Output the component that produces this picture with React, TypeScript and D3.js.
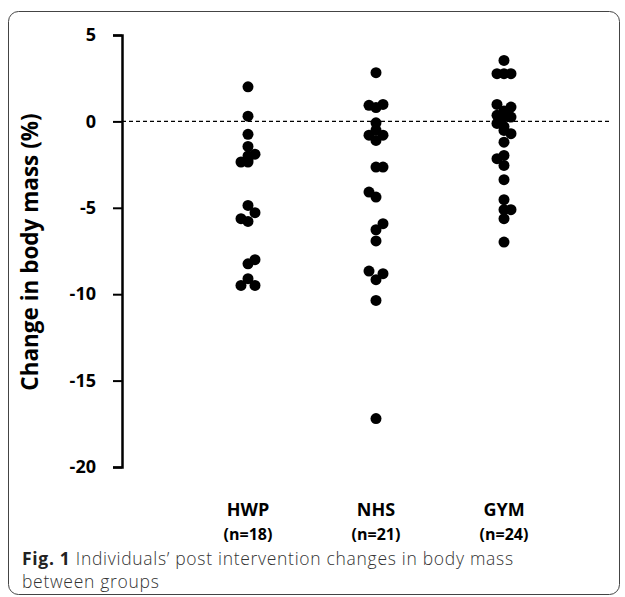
import * as d3 from 'd3';
import React, { useEffect, useRef } from 'react';

const groups = ['HWP', 'NHS', 'GYM'];
const groupCounts = ['(n=18)', '(n=21)', '(n=24)'];
const yTicks = [5, 0, -5, -10, -15, -20];

// % change per individual, with the beeswarm slot (-1 left, 0 centre, 1 right)
const hwpValues = [2.0, 0.3, -0.75, -1.45, -1.9, -2.0, -2.2, -2.35, -2.35, -4.86, -5.28, -5.63, -5.79, -8.0, -8.24, -9.1, -9.49, -9.49];
const hwpSlots = [0, 0, 0, 0, 1, 0, 0, -1, 0, 0, 1, -1, 0, 1, 0, 0, -1, 1];
const nhsValues = [2.82, 0.93, 0.98, 0.8, -0.08, -0.5, -0.8, -0.8, -1.1, -2.64, -2.64, -4.09, -4.38, -5.92, -6.27, -6.92, -8.66, -8.81, -9.16, -10.36, -17.2];
const nhsSlots = [0, -1, 1, 0, 0, 0, -1, 1, 0, 0, 1, -1, 0, 1, 0, 0, -1, 1, 0, 0, 0];
const gymValues = [3.53, 2.76, 2.76, 2.76, 0.98, 0.83, 0.6, 0.35, 0.25, 0.25, -0.12, -0.3, -0.52, -0.71, -1.2, -1.97, -2.16, -2.55, -3.37, -4.53, -5.11, -5.11, -5.63, -6.98];
const gymSlots = [0, -1, 0, 1, -1, 1, 0, -1, 0, 1, -1, 0, 0, 1, 0, 0, -1, 0, 0, 0, 0, 1, 0, 0];

const App: React.FC = () => {
    const svgRef = useRef<SVGSVGElement | null>(null);

    useEffect(() => {
        const width = 625;
        const height = 597;
        const svg = d3.select(svgRef.current);
        svg.selectAll('*').remove();
        svg.attr('width', width).attr('height', height);

        // outer frame
        svg.append('rect')
            .attr('x', 8.5).attr('y', 11.5)
            .attr('width', 611).attr('height', 583)
            .attr('rx', 10)
            .attr('fill', 'none')
            .attr('stroke', '#444')
            .attr('stroke-width', 1);

        const y = d3.scaleLinear().domain([-20, 5]).range([467, 35]);
        const x = d3.scalePoint<string>().domain(groups).range([248, 504]);
        const slot = d3.scaleLinear().domain([-1, 1]).range([-7, 7]);
        const axisX = 122;

        // zero reference line
        svg.append('line')
            .attr('x1', axisX).attr('x2', 610)
            .attr('y1', y(0)).attr('y2', y(0))
            .attr('stroke', '#000')
            .attr('stroke-width', 1.2)
            .attr('stroke-dasharray', '4,3');

        // y axis (plain hyphen for minus, as in the original)
        const axis = svg.append('g')
            .attr('transform', `translate(${axisX},0)`)
            .call(d3.axisLeft(y).tickValues(yTicks).tickSize(9).tickSizeOuter(9).tickPadding(17).tickFormat(d => String(d)));
        axis.select('.domain').attr('stroke', '#000').attr('stroke-width', 2.5);
        axis.selectAll('.tick line').attr('stroke', '#000').attr('stroke-width', 2);
        axis.selectAll('.tick text')
            .attr('fill', '#000')
            .style('font-family', '"Open Sans", sans-serif')
            .style('font-weight', 'bold')
            .style('font-size', '18px');

        svg.append('text')
            .attr('transform', `translate(38,252) rotate(-90)`)
            .attr('text-anchor', 'middle')
            .style('font-family', '"Open Sans", sans-serif')
            .style('font-weight', 'bold')
            .style('font-size', '22.5px')
            .text('Change in body mass (%)');

        const series = [
            { name: 'HWP', values: hwpValues, slots: hwpSlots },
            { name: 'NHS', values: nhsValues, slots: nhsSlots },
            { name: 'GYM', values: gymValues, slots: gymSlots },
        ];

        series.forEach(s => {
            svg.append('g')
                .selectAll('circle')
                .data(s.values)
                .enter()
                .append('circle')
                .attr('cx', (_, i) => x(s.name)! + slot(s.slots[i]))
                .attr('cy', d => y(d))
                .attr('r', 5.5)
                .attr('fill', '#000');
        });

        // category labels
        groups.forEach((g, i) => {
            svg.append('text')
                .attr('x', x(g)!).attr('y', 516)
                .attr('text-anchor', 'middle')
                .style('font-family', '"Open Sans", sans-serif')
                .style('font-weight', 'bold')
                .style('font-size', '18px')
                .text(g);
            svg.append('text')
                .attr('x', x(g)!).attr('y', 540)
                .attr('text-anchor', 'middle')
                .style('font-family', '"Open Sans", sans-serif')
                .style('font-weight', 'bold')
                .style('font-size', '16px')
                .text(groupCounts[i]);
        });

        // caption
        const cap = svg.append('text')
            .attr('x', 22).attr('y', 565)
            .style('font-family', '"Open Sans", sans-serif')
            .style('font-size', '17.5px')
            .style('font-weight', 300)
            .style('letter-spacing', '0.7px')
            .attr('fill', '#333');
        cap.append('tspan').style('font-weight', 'bold').attr('fill', '#222').text('Fig. 1');
        cap.append('tspan').text(' Individuals\u2019 post intervention changes in body mass');
        svg.append('text')
            .attr('x', 22).attr('y', 588)
            .style('font-family', '"Open Sans", sans-serif')
            .style('font-size', '17.5px')
            .style('font-weight', 300)
            .style('letter-spacing', '0.7px')
            .attr('fill', '#333')
            .text('between groups');
    }, []);

    return <svg ref={svgRef} style={{ position: 'absolute', left: 0, top: 0 }}></svg>;
};

export default App;
